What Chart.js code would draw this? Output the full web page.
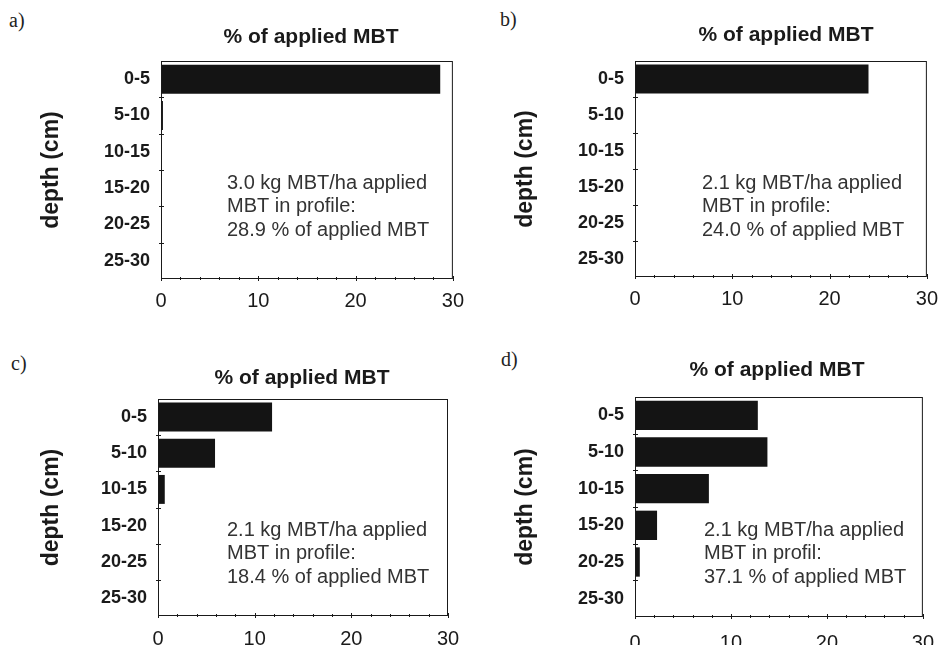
<!DOCTYPE html>
<html>
<head>
<meta charset="utf-8">
<script src="https://cdn.jsdelivr.net/npm/chart.js@4.4.1/dist/chart.umd.min.js"></script>
<style>
  body { margin: 0; background: #fff; width: 948px; height: 645px; position: relative; overflow: hidden; }
  .panel { position: absolute; }
  .tag { position: absolute; font-family: "Liberation Serif", "Times New Roman", serif; font-size: 20px; color: #222; }
</style>
</head>
<body>
<div class="tag" style="left:9px;top:9px">a)</div>
<div class="tag" style="left:500px;top:8px">b)</div>
<div class="tag" style="left:11px;top:352px">c)</div>
<div class="tag" style="left:501px;top:348px">d)</div>

<div class="panel" style="left:0;top:0"><canvas id="chartA" width="474" height="320"></canvas></div>
<div class="panel" style="left:474px;top:0"><canvas id="chartB" width="474" height="320"></canvas></div>
<div class="panel" style="left:0;top:320px"><canvas id="chartC" width="474" height="325"></canvas></div>
<div class="panel" style="left:474px;top:320px"><canvas id="chartD" width="474" height="325"></canvas></div>

<script>
// data
const depthLabels = ["0-5", "5-10", "10-15", "15-20", "20-25", "25-30"];
const valuesA = [28.7, 0.2, 0, 0, 0, 0];
const valuesB = [24.0, 0, 0, 0, 0, 0];
const valuesC = [11.8, 5.9, 0.7, 0, 0, 0];
const valuesD = [12.8, 13.8, 7.7, 2.3, 0.5, 0];
const xMin = 0, xMax = 30, xStep = 10, minorStep = 2;

const titleText = "% of applied MBT";
const axisTitle = "depth (cm)";
const notesA = ["3.0 kg MBT/ha applied", "MBT in profile:", "28.9 % of applied MBT"];
const notesB = ["2.1 kg MBT/ha applied", "MBT in profile:", "24.0 % of applied MBT"];
const notesC = ["2.1 kg MBT/ha applied", "MBT in profile:", "18.4 % of applied MBT"];
const notesD = ["2.1 kg MBT/ha applied", "MBT in profil:", "37.1 % of applied MBT"];

const fontFam = "'Liberation Sans', Arial, sans-serif";

// frame, inward ticks, title and note text
const panelDecor = {
  id: "panelDecor",
  afterDraw(chart, args, opts) {
    const { ctx, chartArea: a, scales: { x, y } } = chart;
    ctx.save();
    ctx.strokeStyle = "#1a1a1a";
    ctx.lineWidth = 1;
    ctx.strokeRect(a.left + 0.5, a.top + 0.5, a.right - a.left - 1, a.bottom - a.top - 1);

    for (let v = xMin; v <= xMax; v += minorStep) {
      const px = Math.round(x.getPixelForValue(v)) + 0.5;
      const len = v % xStep === 0 ? 3 : 2;
      ctx.beginPath();
      ctx.moveTo(px, a.bottom - len);
      ctx.lineTo(px, a.bottom + len - 1);
      ctx.stroke();
    }
    for (let i = 1; i < depthLabels.length; i++) {
      const py = Math.round((y.getPixelForValue(i - 1) + y.getPixelForValue(i)) / 2) + 0.5;
      ctx.beginPath();
      ctx.moveTo(a.left - 2, py);
      ctx.lineTo(a.left + 3, py);
      ctx.stroke();
    }

    ctx.fillStyle = "#1a1a1a";
    ctx.font = "bold 21px " + fontFam;
    ctx.textAlign = "center";
    ctx.textBaseline = "middle";
    ctx.fillText(titleText, opts.titleX, opts.titleY);

    ctx.fillStyle = "#333";
    ctx.font = "20px " + fontFam;
    ctx.textAlign = "left";
    opts.notes.forEach((t, i) => ctx.fillText(t, opts.noteX, opts.noteY + i * 23.5));
    ctx.restore();
  }
};

function makePanel(id, values, notes, p) {
  const ctx = document.getElementById(id).getContext("2d");
  return new Chart(ctx, {
    type: "bar",
    data: {
      labels: depthLabels,
      datasets: [{
        data: values,
        backgroundColor: "#141414",
        borderWidth: 0,
        barPercentage: 0.8,
        categoryPercentage: 1.0
      }]
    },
    options: {
      indexAxis: "y",
      responsive: false,
      animation: false,
      layout: { padding: { left: 0, top: p.padTop, right: p.padRight, bottom: 0 } },
      plugins: {
        legend: { display: false },
        tooltip: { enabled: false },
        panelDecor: { notes: notes, titleX: p.titleX, titleY: p.titleY, noteX: p.noteX, noteY: p.noteY }
      },
      scales: {
        x: {
          type: "linear",
          min: xMin,
          max: xMax,
          ticks: { stepSize: xStep, padding: p.xPad, color: "#1a1a1a", font: { size: 20, family: fontFam } },
          grid: { display: false, drawTicks: false },
          border: { display: false },
          afterFit: s => { s.height = p.xH; }
        },
        y: {
          ticks: { padding: 11, color: "#1a1a1a", font: { size: 18, weight: "bold", family: fontFam } },
          grid: { display: false, drawTicks: false },
          border: { display: false },
          title: {
            display: true, text: axisTitle, color: "#1a1a1a",
            font: { size: 23, weight: "bold", family: fontFam },
            padding: { top: 38, bottom: 0 }
          },
          afterFit: s => { s.width = p.yW; }
        }
      }
    },
    plugins: [panelDecor]
  });
}

makePanel("chartA", valuesA, notesA, { padTop: 61, padRight: 18, yW: 161, xH: 41, xPad: 10, titleX: 311, titleY: 37, noteX: 227, noteY: 183 });
makePanel("chartB", valuesB, notesB, { padTop: 61, padRight: 16, yW: 161, xH: 43, xPad: 10, titleX: 312, titleY: 35, noteX: 228, noteY: 183 });
makePanel("chartC", valuesC, notesC, { padTop: 79, padRight: 26, yW: 158, xH: 29, xPad: 11, titleX: 302, titleY: 58, noteX: 227, noteY: 210 });
makePanel("chartD", valuesD, notesD, { padTop: 77, padRight: 17, yW: 161, xH: 28, xPad: 14, titleX: 303, titleY: 50, noteX: 230, noteY: 210 });
</script>
</body>
</html>
